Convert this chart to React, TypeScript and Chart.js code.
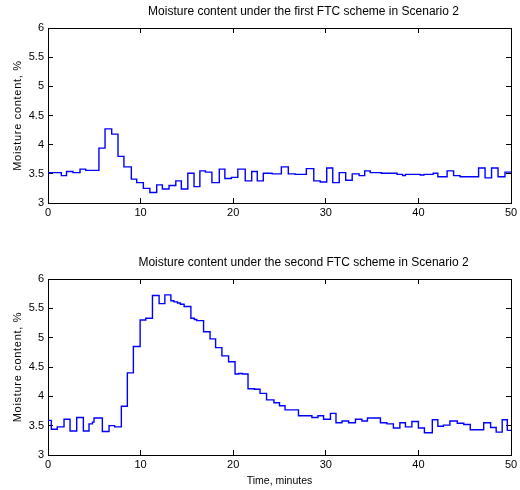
import React, { useEffect, useRef } from "react";
import { Chart, registerables } from "chart.js";

Chart.register(...registerables);

const FONT = "'Liberation Sans', Arial, Helvetica, sans-serif";

const xTickValues = [0, 10, 20, 30, 40, 50];
const yTickValues = [3, 3.5, 4, 4.5, 5, 5.5, 6];
const topTitle = "Moisture content under the first FTC scheme in Scenario 2";
const bottomTitle = "Moisture content under the second FTC scheme in Scenario 2";
const yAxisLabel = "Moisture content, %";
const xAxisLabel = "Time, minutes";

// First FTC scheme: time (min) at which the value changes, and the new value (%)
const topTimes = [
  0, 1.44, 2.0, 2.7, 3.46, 4.07, 5.5, 6.16, 6.88, 7.56, 8.2, 9.0, 9.58, 10.3,
  11.0, 11.74, 12.35, 13.07, 13.8, 14.4, 15.1, 15.77, 16.4, 17.0, 17.7, 18.5,
  19.1, 19.8, 20.5, 21.3, 22.0, 22.6, 23.25, 24.2, 25.2, 25.95, 26.7, 27.9,
  28.7, 29.4, 30.1, 30.75, 31.45, 32.15, 32.85, 33.6, 34.2, 34.8, 36.0, 37.7,
  38.3, 38.6, 40.2, 40.6, 41.6, 42.1, 43.1, 43.8, 44.5, 46.5, 47.2, 47.9, 48.6,
  49.35, 50,
];
const topValues = [
  3.52, 3.47, 3.54, 3.52, 3.58, 3.56, 3.94, 4.27, 4.18, 3.8, 3.62, 3.41, 3.35,
  3.25, 3.18, 3.31, 3.24, 3.3, 3.38, 3.24, 3.51, 3.28, 3.55, 3.53, 3.35, 3.58,
  3.42, 3.44, 3.58, 3.38, 3.54, 3.38, 3.51, 3.5, 3.62, 3.5, 3.49, 3.59, 3.38,
  3.36, 3.6, 3.35, 3.52, 3.39, 3.5, 3.47, 3.55, 3.52, 3.51, 3.49, 3.47, 3.49,
  3.48, 3.49, 3.51, 3.45, 3.55, 3.47, 3.45, 3.6, 3.43, 3.6, 3.45, 3.53, 3.53,
];

// Second FTC scheme
const bottomTimes = [
  0, 0.36, 1.0, 1.73, 2.38, 3.1, 3.82, 4.43, 4.8, 4.97, 5.87, 6.59, 7.2, 7.92,
  8.57, 9.22, 9.95, 10.56, 11.28, 12.0, 12.62, 13.27, 13.6, 13.98, 14.3, 14.7,
  15.43, 15.8, 16.07, 16.8, 17.5, 18.1, 18.78, 19.5, 20.2, 20.6, 21.0, 21.6,
  22.3, 22.9, 23.6, 24.4, 25.0, 25.6, 27.05, 28.5, 29.15, 29.76, 30.5, 31.1,
  31.75, 32.46, 33.2, 33.9, 34.5, 35.9, 36.6, 37.3, 38.0, 38.6, 39.3, 40.0,
  40.65, 41.5, 42.1, 42.7, 43.4, 44.2, 44.9, 45.6, 47.05, 47.8, 48.4, 49.05,
  49.6, 50,
];
const bottomValues = [
  3.59, 3.44, 3.48, 3.61, 3.41, 3.64, 3.41, 3.53, 3.56, 3.63, 3.4, 3.5, 3.48,
  3.83, 4.4, 4.85, 5.3, 5.33, 5.72, 5.58, 5.73, 5.63, 5.61, 5.59, 5.57, 5.53,
  5.33, 5.31, 5.29, 5.1, 4.98, 4.83, 4.69, 4.59, 4.38, 4.39, 4.38, 4.13, 4.12,
  4.05, 3.94, 3.89, 3.84, 3.77, 3.67, 3.64, 3.67, 3.61, 3.71, 3.55, 3.58, 3.55,
  3.61, 3.58, 3.63, 3.55, 3.53, 3.46, 3.55, 3.48, 3.57, 3.46, 3.38, 3.6, 3.49,
  3.51, 3.58, 3.54, 3.52, 3.43, 3.55, 3.47, 3.39, 3.6, 3.42, 3.42,
];

type PanelOpts = {
  times: number[];
  values: number[];
  title: string;
  showXTitle: boolean;
  padTop: number;
  xAxisHeight: number;
};

// Draws the panel title above the plot box (MATLAB-like placement)
const panelTitlePlugin = {
  id: "panelTitle",
  afterDraw(chart: any, _args: any, opts: any) {
    if (!opts || !opts.text) return;
    const { ctx, chartArea } = chart;
    ctx.save();
    ctx.font = `normal ${opts.size}px ${FONT}`;
    ctx.fillStyle = "#000";
    ctx.textAlign = "center";
    ctx.textBaseline = "middle";
    const cx = (chartArea.left + chartArea.right) / 2 + opts.shift;
    ctx.fillText(opts.text, cx, chartArea.top - opts.gap);
    ctx.restore();
  },
};

function makeConfig(o: PanelOpts): any {
  const tickFont = { family: FONT, size: 11 };
  const frame = { display: true, color: "#000", width: 1 };
  const inwardGrid = {
    drawOnChartArea: false,
    drawTicks: true,
    tickLength: -5,
    color: "#000",
    lineWidth: 1,
  };
  return {
    type: "line",
    data: {
      datasets: [
        {
          data: o.times.map((t, i) => ({ x: t, y: o.values[i] })),
          borderColor: "#0000ff",
          borderWidth: 1.4,
          pointRadius: 0,
          stepped: "before",
          fill: false,
        },
      ],
    },
    plugins: [panelTitlePlugin],
    options: {
      responsive: false,
      animation: false,
      layout: { padding: { left: 0, right: 9, top: o.padTop, bottom: 0 } },
      plugins: {
        legend: { display: false },
        tooltip: { enabled: false },
        title: { display: false },
        panelTitle: { text: o.title, size: 12, shift: 24, gap: 16 },
      },
      scales: {
        x: {
          type: "linear",
          position: "bottom",
          min: 0,
          max: 50,
          afterBuildTicks: (s: any) => {
            s.ticks = xTickValues.map((v) => ({ value: v }));
          },
          ticks: { color: "#000", font: tickFont, padding: 8.5, maxRotation: 0 },
          grid: inwardGrid,
          border: frame,
          title: {
            display: o.showXTitle,
            text: xAxisLabel,
            color: "#000",
            font: { family: FONT, size: 10.5 },
            padding: { top: 0, bottom: 2.5 },
          },
          afterFit: (s: any) => {
            s.height = o.xAxisHeight;
            s.paddingLeft = 3;
            s.paddingRight = 6;
          },
        },
        x2: {
          type: "linear",
          position: "top",
          min: 0,
          max: 50,
          afterBuildTicks: (s: any) => {
            s.ticks = xTickValues.map((v) => ({ value: v }));
          },
          ticks: { display: false },
          grid: inwardGrid,
          border: frame,
          afterFit: (s: any) => {
            s.height = 0;
            s.paddingLeft = 0;
            s.paddingRight = 0;
          },
        },
        y: {
          type: "linear",
          position: "left",
          min: 3,
          max: 6,
          afterBuildTicks: (s: any) => {
            s.ticks = yTickValues.map((v) => ({ value: v }));
          },
          ticks: {
            color: "#000",
            font: tickFont,
            padding: 9,
            callback: (v: any) => String(v),
          },
          grid: inwardGrid,
          border: frame,
          title: {
            display: true,
            text: yAxisLabel,
            color: "#000",
            font: { family: FONT, size: 11 },
            padding: { top: 11.4, bottom: 0 },
          },
          afterFit: (s: any) => {
            s.width = 48;
            if (!s.__spaced) {
              const orig = s.drawTitle;
              s.drawTitle = function (...args: any[]) {
                const c = this.ctx;
                const prev = c.letterSpacing;
                c.letterSpacing = "0.7px";
                orig.apply(this, args);
                c.letterSpacing = prev;
              };
              s.__spaced = true;
            }
          },
        },
        y2: {
          type: "linear",
          position: "right",
          min: 3,
          max: 6,
          afterBuildTicks: (s: any) => {
            s.ticks = yTickValues.map((v) => ({ value: v }));
          },
          ticks: { display: false },
          grid: inwardGrid,
          border: frame,
          afterFit: (s: any) => {
            s.width = 0;
          },
        },
      },
    },
  };
}

function Panel(props: PanelOpts & { top: number }) {
  const ref = useRef<HTMLCanvasElement | null>(null);
  useEffect(() => {
    if (!ref.current) return;
    const chart = new Chart(ref.current, makeConfig(props));
    return () => chart.destroy();
  }, []);
  return (
    <canvas
      ref={ref}
      width={520}
      height={245}
      style={{
        position: "absolute",
        left: 0,
        top: props.top,
        width: 520,
        height: 245,
        display: "block",
      }}
    />
  );
}

export default function App() {
  return (
    <div
      style={{
        position: "absolute",
        left: 0,
        top: 0,
        width: 520,
        height: 490,
        background: "#fff",
      }}
    >
      <Panel
        top={0}
        times={topTimes}
        values={topValues}
        title={topTitle}
        showXTitle={false}
        padTop={28}
        xAxisHeight={42}
      />
      <Panel
        top={245}
        times={bottomTimes}
        values={bottomValues}
        title={bottomTitle}
        showXTitle={true}
        padTop={34}
        xAxisHeight={35}
      />
    </div>
  );
}
